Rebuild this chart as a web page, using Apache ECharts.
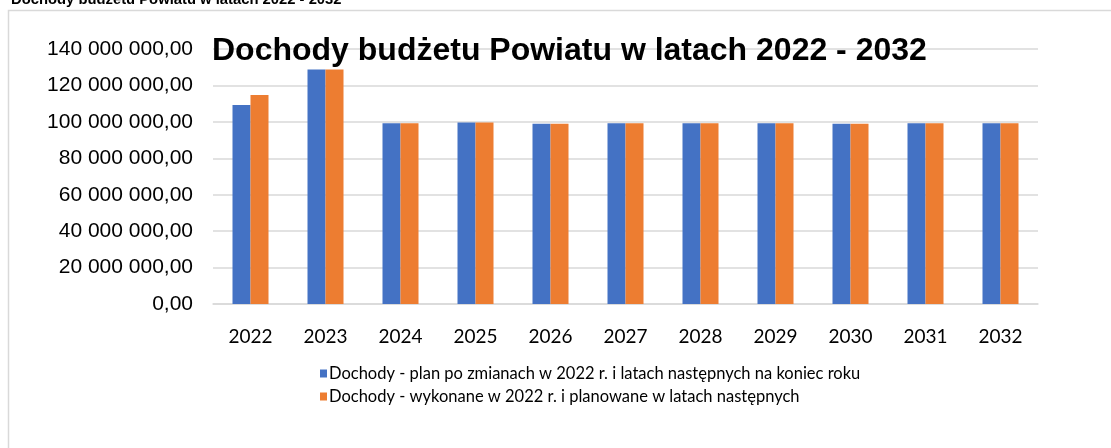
<!DOCTYPE html>
<html>
<head>
<meta charset="utf-8">
<script src="https://cdn.jsdelivr.net/npm/echarts@6/dist/echarts.min.js"></script>
<style>
  html, body { margin: 0; padding: 0; background: #fff; }
  #chart { width: 1111px; height: 448px; }
</style>
</head>
<body>
<div id="chart"></div>
<script>
  const years = ["2022", "2023", "2024", "2025", "2026", "2027", "2028", "2029", "2030", "2031", "2032"];
  const planValues = [109.2, 128.8, 99.3, 99.7, 98.9, 99.3, 99.3, 99.3, 98.9, 99.3, 99.3].map((v) => v * 1e6);
  const doneValues = [114.8, 128.8, 99.3, 99.7, 98.9, 99.3, 99.3, 99.3, 98.9, 99.3, 99.3].map((v) => v * 1e6);
  const seriesNames = [
    "Dochody - plan po zmianach w 2022 r. i latach następnych na koniec roku",
    "Dochody - wykonane w 2022 r. i planowane w latach następnych"
  ];
  const titleText = "Dochody budżetu Powiatu w latach 2022 - 2032";

  function plMoney(value) {
    const whole = Math.round(value).toString().replace(/\B(?=(\d{3})+(?!\d))/g, " ");
    return `${whole},00`;
  }

  const chart = echarts.init(document.getElementById("chart"), null, { renderer: "canvas" });

  chart.setOption({
    animation: false,
    graphic: [
      {
        type: "rect",
        shape: { x: 8.5, y: 10.5, width: 1200, height: 600 },
        style: { fill: "none", stroke: "#d9d9d9", lineWidth: 1.5 },
        z: -1
      }
    ],
    title: [
      {
        text: titleText,
        left: 6,
        top: -13,
        textStyle: { fontFamily: "Liberation Sans", fontWeight: "bold", fontSize: 14.8, color: "#000" }
      },
      {
        text: titleText,
        left: 207,
        top: 30,
        textStyle: { fontFamily: "Liberation Sans", fontWeight: "bold", fontSize: 32, color: "#000" }
      }
    ],
    legend: {
      orient: "vertical",
      left: 315,
      top: 360,
      itemWidth: 7,
      itemHeight: 8,
      itemGap: 6,
      icon: "rect",
      data: seriesNames,
      textStyle: { fontFamily: "Lato", fontSize: 16.5, color: "#000", padding: [0, 0, 0, -3] }
    },
    grid: { left: 213, right: 73, top: 49, bottom: 144 },
    xAxis: {
      type: "category",
      data: years,
      axisLine: { lineStyle: { color: "#d9d9d9", width: 1.5 } },
      axisTick: { show: false },
      axisLabel: { fontFamily: "Lato", fontSize: 19, color: "#000", margin: 23 }
    },
    yAxis: {
      type: "value",
      min: 0,
      max: 140000000,
      interval: 20000000,
      axisLine: { show: false },
      axisTick: { show: false },
      splitLine: { lineStyle: { color: "#d9d9d9", width: 1.5 } },
      axisLabel: {
        fontFamily: "Liberation Sans",
        fontSize: 21,
        color: "#000",
        margin: 20,
        formatter: plMoney
      }
    },
    series: [
      {
        name: seriesNames[0],
        type: "bar",
        data: planValues,
        barWidth: 18,
        barGap: "0%",
        itemStyle: { color: "#4472c4" }
      },
      {
        name: seriesNames[1],
        type: "bar",
        data: doneValues,
        barWidth: 18,
        itemStyle: { color: "#ed7d31" }
      }
    ]
  });
</script>
</body>
</html>
